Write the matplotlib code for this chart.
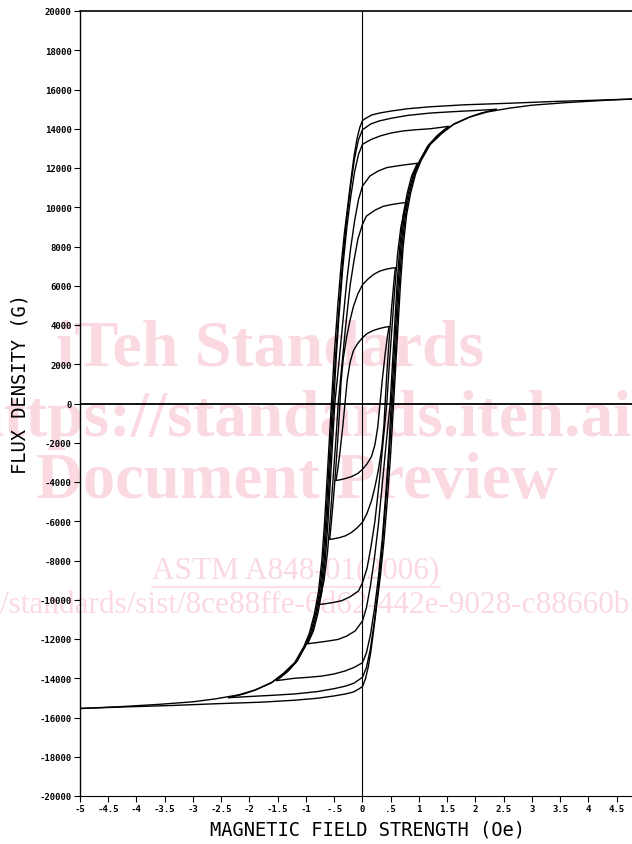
#!/usr/bin/env python3
"""
Family of symmetric B-H hysteresis loops (scanned standard plot with watermark).
Only the descending branch of each loop is tabulated; the ascending branch is
its point reflection through the origin, as the loops are symmetric.
"""

import matplotlib.pyplot as plt
from matplotlib.lines import Line2D

# descending branches: field H (Oe), flux density B (G)
loop1_h = [0.47, 0.40, 0.30, 0.19, 0.08, 0.0, -0.08, -0.16, -0.22, -0.27, -0.31,
           -0.35, -0.40, -0.44, -0.47]
loop1_b = [3920, 3890, 3820, 3720, 3560, 3350, 3080, 2700, 2100, 1200, 0,
           -1200, -2500, -3400, -3920]

loop2_h = [0.58, 0.50, 0.40, 0.30, 0.20, 0.10, 0.0, -0.08, -0.16, -0.22, -0.28,
           -0.34, -0.38, -0.40, -0.43, -0.47, -0.51, -0.55, -0.58]
loop2_b = [6920, 6890, 6830, 6740, 6580, 6350, 6050, 5600, 4950, 4250, 3400,
           2300, 1100, 0, -1500, -3200, -4700, -6000, -6920]

loop3_h = [0.79, 0.65, 0.50, 0.37, 0.22, 0.07, 0.0, -0.08, -0.15, -0.22, -0.30,
           -0.37, -0.43, -0.47, -0.52, -0.57, -0.62, -0.68, -0.74, -0.79]
loop3_b = [10250, 10200, 10130, 10050, 9850, 9550, 9130, 8400, 7300, 6000, 3900,
           1800, 0, -1800, -3800, -5800, -7600, -9000, -9800, -10250]

loop4_h = [0.97, 0.80, 0.60, 0.43, 0.28, 0.13, 0.0, -0.07, -0.14, -0.21, -0.28,
           -0.35, -0.42, -0.49, -0.53, -0.57, -0.61, -0.66, -0.72, -0.79, -0.87, -0.97]
loop4_b = [12240, 12180, 12100, 12020, 11850, 11590, 11080, 10400, 9300, 7900, 6200,
           4100, 2000, 0, -2000, -4000, -6000, -8000, -9600, -10700, -11600, -12240]

loop5_h = [1.52, 1.20, 0.95, 0.72, 0.50, 0.31, 0.15, 0.0, -0.07, -0.14, -0.21,
           -0.28, -0.35, -0.42, -0.47, -0.51, -0.55, -0.59, -0.63, -0.68, -0.74,
           -0.81, -0.90, -1.00, -1.15, -1.32, -1.52]
loop5_b = [14120, 14000, 13950, 13890, 13780, 13630, 13450, 13210, 12700, 11800, 10500,
           8900, 6900, 4300, 2100, 0, -2000, -4000, -6000, -8000, -9600,
           -10700, -11700, -12300, -13100, -13650, -14120]

loop6_h = [2.37, 2.0, 1.6, 1.2, 0.8, 0.5, 0.3, 0.15, 0.0, -0.07, -0.14, -0.21,
           -0.28, -0.35, -0.42, -0.48, -0.53, -0.57, -0.61, -0.65, -0.70, -0.76,
           -0.83, -0.92, -1.02, -1.18, -1.38, -1.6, -1.9, -2.1, -2.37]
loop6_b = [14990, 14930, 14870, 14800, 14680, 14530, 14400, 14250, 13950, 13450, 12500, 11100,
           9400, 7300, 4700, 2300, 0, -2000, -4000, -6000, -8000, -9600,
           -10700, -11700, -12400, -13200, -13750, -14200, -14600, -14800, -14990]

loop7_h = [5.0, 4.2, 3.4, 2.6, 1.8, 1.2, 0.8, 0.5, 0.3, 0.16, 0.05, 0.0, -0.05,
           -0.10, -0.15, -0.20, -0.26, -0.32, -0.38, -0.44, -0.50, -0.55, -0.59,
           -0.63, -0.67, -0.72, -0.78, -0.85, -0.94, -1.04, -1.2, -1.4, -1.62,
           -1.9, -2.2, -2.6, -3.0, -3.6, -4.3, -5.0]
loop7_b = [15540, 15460, 15390, 15300, 15220, 15120, 15020, 14900, 14800, 14700, 14520, 14420, 14050,
           13450, 12600, 11500, 10100, 8700, 7000, 4900, 2500, 0, -2000,
           -4000, -6000, -8000, -9600, -10700, -11700, -12400, -13200, -13750, -14250,
           -14600, -14850, -15050, -15200, -15330, -15450, -15540]

loops = [(loop1_h, loop1_b), (loop2_h, loop2_b), (loop3_h, loop3_b),
         (loop4_h, loop4_b), (loop5_h, loop5_b), (loop6_h, loop6_b),
         (loop7_h, loop7_b)]

x_ticks = [-5, -4.5, -4, -3.5, -3, -2.5, -2, -1.5, -1, -0.5, 0, 0.5, 1,
           1.5, 2, 2.5, 3, 3.5, 4, 4.5]
x_tick_labels = ["-5", "-4.5", "-4", "-3.5", "-3", "-2.5", "-2", "-1.5", "-1", "-.5",
                 "0", ".5", "1", "1.5", "2", "2.5", "3", "3.5", "4", "4.5"]
y_ticks = list(range(-20000, 20001, 2000))
y_tick_labels = [str(v) for v in y_ticks]

W, H = 632, 845
fig = plt.figure(figsize=(W / 100, H / 100), dpi=100)
fig.patch.set_facecolor("white")

# axes: the right part of the plot is cut off by the page edge in the scan
ax_l, ax_r, ax_t, ax_b = 80, 80 + 56.5 * 10, 12, 797
ax = fig.add_axes([ax_l / W, 1 - ax_b / H, (ax_r - ax_l) / W, (ax_b - ax_t) / H])
ax.patch.set_visible(False)

for h, b in loops:
    ax.plot(h, b, color="black", lw=1.0, solid_capstyle="round")
    ax.plot([-v for v in h], [-v for v in b], color="black", lw=1.0,
            solid_capstyle="round")

ax.axhline(0, color="black", lw=1.3)
ax.axvline(0, color="black", lw=0.8)

ax.set_xlim(-5, 5)
ax.set_ylim(-20000, 20000)
ax.set_xticks(x_ticks)
ax.set_xticklabels(x_tick_labels)
ax.set_yticks(y_ticks)
ax.set_yticklabels(y_tick_labels)
ax.tick_params(direction="out", length=4, width=0.8, pad=2, labelsize=6.5)
for lab in ax.get_xticklabels() + ax.get_yticklabels():
    lab.set_family("DejaVu Sans Mono")
    lab.set_weight("bold")

ax.spines["right"].set_visible(False)
ax.spines["left"].set_linewidth(1.0)
ax.spines["top"].set_linewidth(1.2)
ax.spines["bottom"].set_linewidth(0.8)

fig.text(20 / W, 1 - 384 / H, "FLUX DENSITY (G)", rotation=90, ha="center",
         va="center", family="DejaVu Sans Mono", fontsize=13.5)
fig.text(368 / W, 1 - 830 / H, "MAGNETIC FIELD STRENGTH (Oe)", ha="center",
         va="center", family="DejaVu Sans Mono", fontsize=13.5)

# watermark of the document preview, behind the plot
pink = "#fad9e1"
wm = dict(color=pink, family="Liberation Serif", zorder=-1)
fig.text(270 / W, 1 - 350 / H, "iTeh Standards", ha="center", va="center",
         fontsize=47.5, weight="bold", **wm)
fig.text(300 / W, 1 - 420 / H, "(https://standards.iteh.ai)", ha="center",
         va="center", fontsize=47, weight="bold", **wm)
fig.text(297 / W, 1 - 482 / H, "Document Preview", ha="center", va="center",
         fontsize=46.5, weight="bold", **wm)
fig.text(296 / W, 1 - 571 / H, "ASTM A848-01(2006)", ha="center", va="center",
         fontsize=22.5, **wm)
fig.add_artist(Line2D([152 / W, 440 / W], [1 - 588 / H, 1 - 588 / H],
                      color=pink, lw=1.2, zorder=-1))
fig.text(0, 1 - 606 / H, "/standards/sist/8ce88ffe-6d62-442e-9028-c88660b",
         ha="left", va="center", fontsize=22.5, **wm)

fig.savefig("out.png", dpi=100)
